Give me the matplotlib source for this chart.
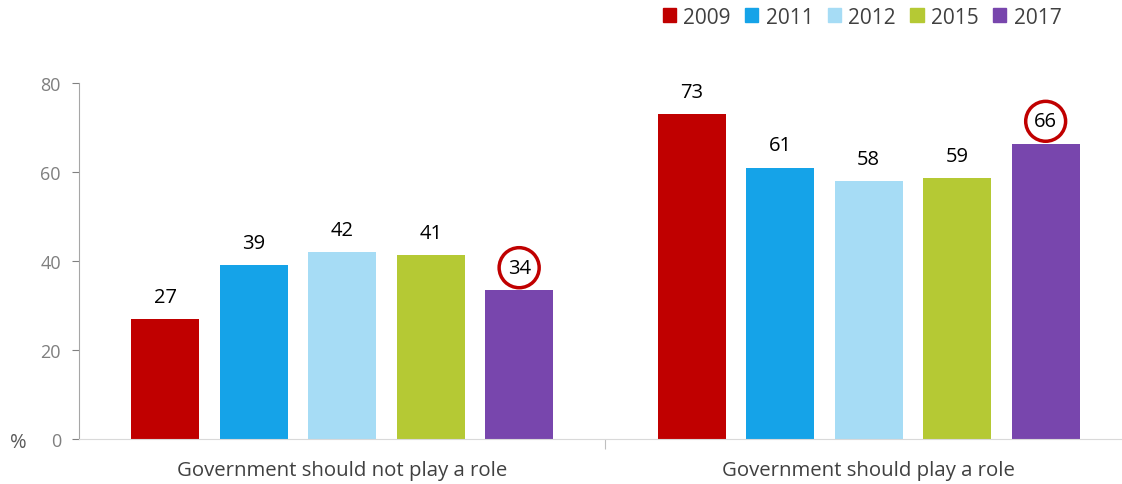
import numpy as np
import matplotlib.pyplot as plt
from matplotlib.patches import Patch

# Data
categories = ["Government should not play a role", "Government should play a role"]
years = ["2009", "2011", "2012", "2015", "2017"]
values = {
    "2009": [27, 73],
    "2011": [39, 61],
    "2012": [42, 58],
    "2015": [41.3, 58.6],
    "2017": [33.5, 66.4],
}
labels = {
    "2009": ["27", "73"],
    "2011": ["39", "61"],
    "2012": ["42", "58"],
    "2015": ["41", "59"],
    "2017": ["34", "66"],
}
colors = ["#C00000", "#15A3E8", "#A6DCF5", "#B5C934", "#7846AD"]
highlight = "2017"   # circled labels

plt.rcParams['font.family'] = ['Open Sans', 'DejaVu Sans']

fig = plt.figure(figsize=(11.22, 4.85), dpi=100)
ax = fig.add_axes([79 / 1122, 45 / 485, 1053 / 1122, 356 / 485])

x = np.arange(len(categories))
step = 0.168
width = 0.129
for i, (yr, col) in enumerate(zip(years, colors)):
    pos = x + (i - 2) * step
    ax.bar(pos, values[yr], width=width, color=col, label=yr)
    for px, v, lab in zip(pos, values[yr], labels[yr]):
        if yr == highlight:
            ax.annotate(lab, (px, v), xytext=(0, 16), textcoords="offset points",
                        ha="center", va="center", fontsize=14.5, color="black",
                        bbox=dict(boxstyle="circle,pad=0.42", fc="white",
                                  ec="#C00000", lw=2.5))
        else:
            ax.annotate(lab, (px, v), xytext=(0, 16), textcoords="offset points",
                        ha="center", va="center", fontsize=14.5, color="black")

ax.set_xlim(-0.5, 1.5)
ax.set_ylim(0, 80)
ax.set_yticks([0, 20, 40, 60, 80])
ax.tick_params(axis="y", colors="#808080", labelsize=13, length=5, width=0.8,
               labelcolor="#7F7F7F", pad=8)
ax.set_xticks(x)
ax.set_xticklabels(categories, fontsize=14.7, color="#404040")
ax.tick_params(axis="x", length=0, pad=15)
ax.set_xticks([0.5], minor=True)
ax.tick_params(axis="x", which="minor", length=7, color="#BFBFBF", width=0.8)

for s in ["top", "right"]:
    ax.spines[s].set_visible(False)
ax.spines["left"].set_color("#A6A6A6")
ax.spines["bottom"].set_color("#D9D9D9")

fig.text(18 / 1122, 1 - 443 / 485, "%", fontsize=14.5, color="#595959",
         ha="center", va="center")

handles = [Patch(color=c, label=y) for y, c in zip(years, colors)]
fig.legend(handles=handles, loc="center", bbox_to_anchor=(862 / 1122, 1 - 18 / 485),
           ncol=5, frameon=False, fontsize=15, handlelength=0.63, handleheight=0.63,
           handletextpad=0.35, columnspacing=0.7, labelcolor="#404040")

fig.savefig("out.png", dpi=100)
